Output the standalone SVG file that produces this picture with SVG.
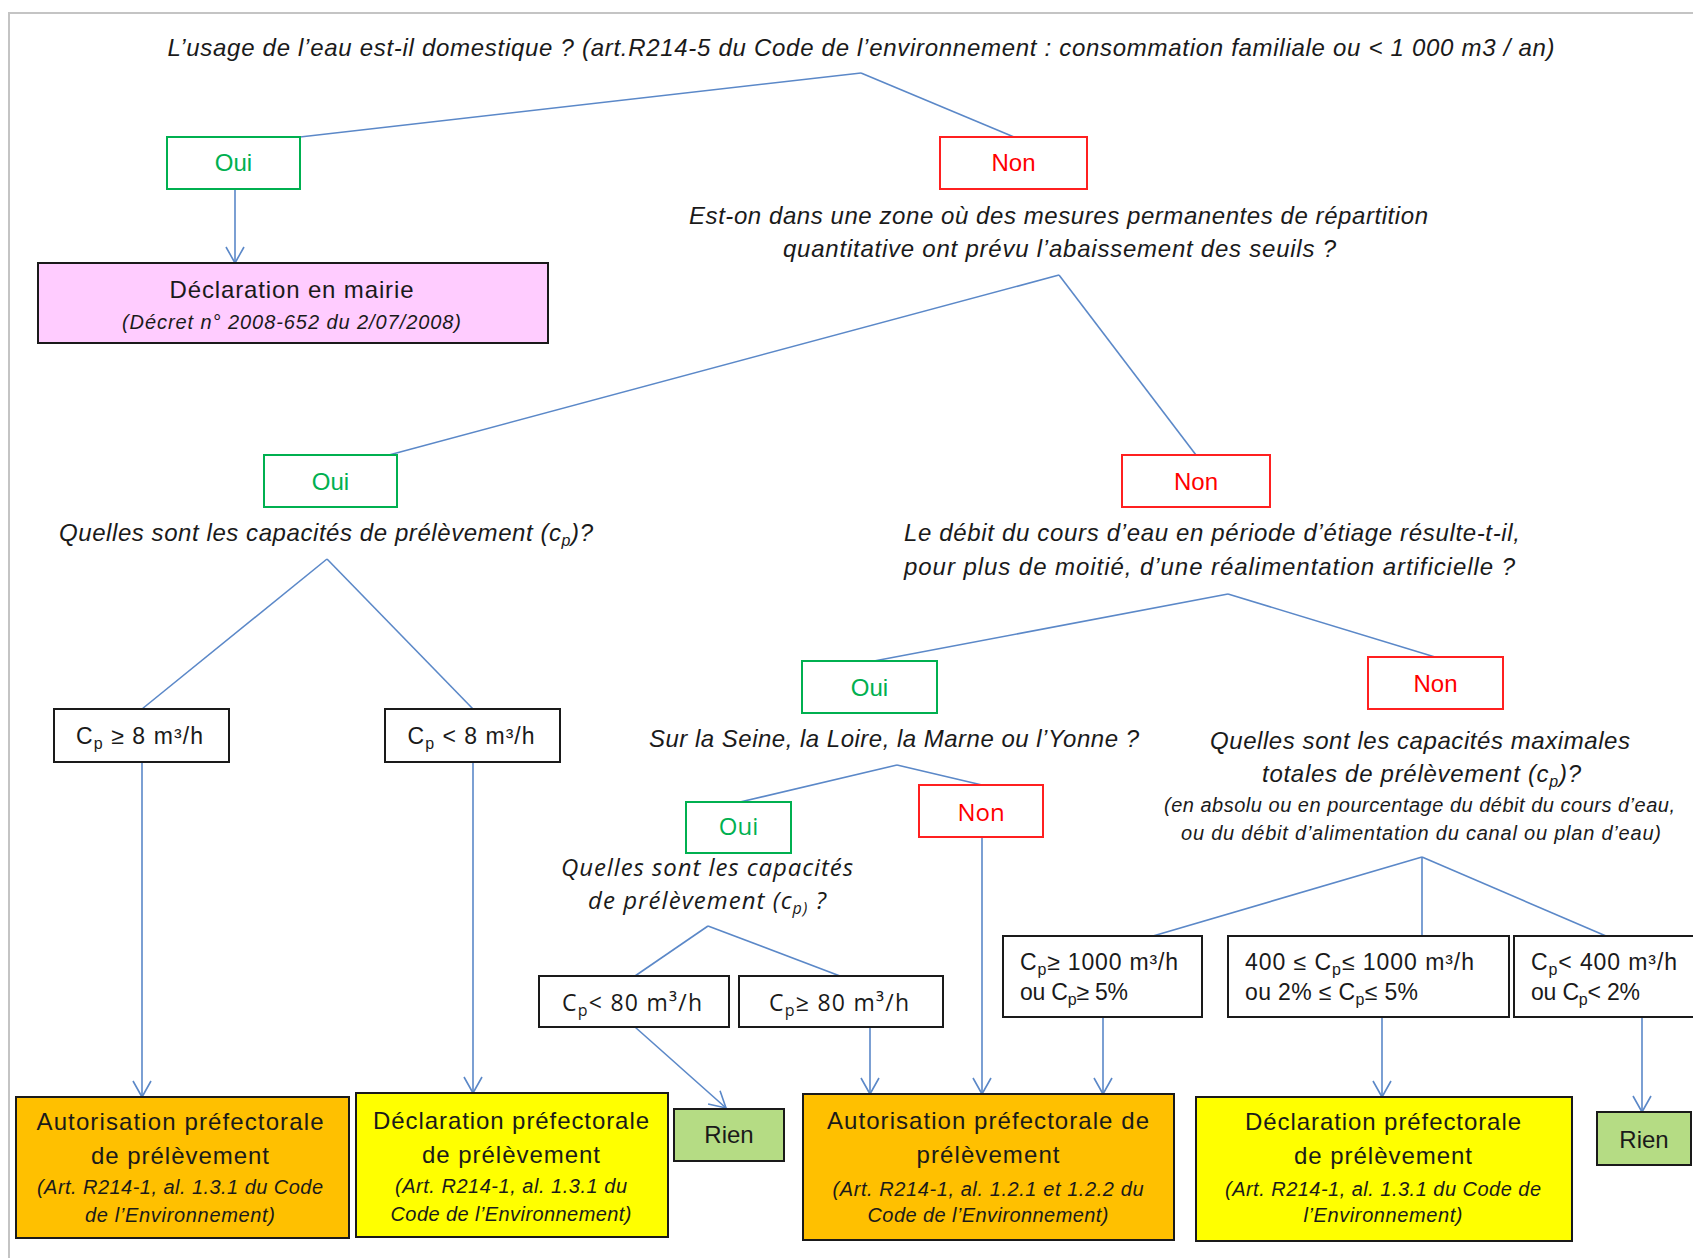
<svg xmlns="http://www.w3.org/2000/svg" width="1693" height="1258" viewBox="0 0 1693 1258">
<defs>
<marker id="arr" viewBox="-18 -10 20 20" refX="0" refY="0" markerWidth="20" markerHeight="20" markerUnits="userSpaceOnUse" orient="auto">
<path d="M-16,-9 L0,0 L-16,9" fill="none" stroke="#5B88C8" stroke-width="1.6"/>
</marker>
<style>
text{font-family:"Liberation Sans",Arial,sans-serif;fill:#1a1a1a}
.q{font-style:italic;font-size:24px}
.qs{font-style:italic;font-size:20px}
.o{font-family:"Open Sans","Liberation Sans",sans-serif}
.m{text-anchor:middle}
.lbl{font-size:24px;text-anchor:middle}
.oui{fill:#00B050}
.non{fill:#FF0000}
.cp{font-size:23px}
.bx{font-size:24px;text-anchor:middle}
.bs{font-size:20px;font-style:italic;text-anchor:middle}
.sub{font-size:16px}
.gbox{fill:#fff;stroke:#00B050;stroke-width:2}
.rbox{fill:#fff;stroke:#FF2020;stroke-width:2}
.kbox{fill:#fff;stroke:#1a1a1a;stroke-width:2}
.org{fill:#FFC000;stroke:#1a1a1a;stroke-width:2}
.yel{fill:#FFFF00;stroke:#1a1a1a;stroke-width:2}
.grn{fill:#B5DC84;stroke:#1a1a1a;stroke-width:2}
.pnk{fill:#FFCCFF;stroke:#1a1a1a;stroke-width:2}
.conn line{stroke:#5B88C8;stroke-width:1.6;fill:none}
.conn .a{marker-end:url(#arr)}
</style>
</defs>
<rect x="0" y="0" width="1693" height="1258" fill="#fff"/>
<path d="M9,1258 V13 H1693" stroke="#C4C4C4" stroke-width="2" fill="none"/>

<g class="conn" id="connectors">
<line x1="861" y1="73" x2="300" y2="137"/>
<line x1="861" y1="73" x2="1014" y2="137"/>
<line class="a" x1="235" y1="189" x2="235" y2="263"/>
<line x1="1059" y1="275" x2="389" y2="455"/>
<line x1="1059" y1="275" x2="1196" y2="455"/>
<line x1="327" y1="559" x2="142" y2="709"/>
<line x1="327" y1="559" x2="473" y2="709"/>
<line class="a" x1="142" y1="762" x2="142" y2="1097"/>
<line class="a" x1="473" y1="762" x2="473" y2="1093"/>
<line x1="1228" y1="594" x2="874" y2="661"/>
<line x1="1228" y1="594" x2="1435" y2="657"/>
<line x1="897" y1="765" x2="740" y2="802"/>
<line x1="897" y1="765" x2="982" y2="785"/>
<line class="a" x1="982" y1="837" x2="982" y2="1094"/>
<line x1="708" y1="926" x2="635" y2="976"/>
<line x1="708" y1="926" x2="840" y2="976"/>
<line class="a" x1="635" y1="1027" x2="726" y2="1108"/>
<line class="a" x1="870" y1="1027" x2="870" y2="1094"/>
<line x1="1422" y1="857" x2="1153" y2="936"/>
<line x1="1422" y1="857" x2="1422" y2="936"/>
<line x1="1422" y1="857" x2="1606" y2="936"/>
<line class="a" x1="1103" y1="1017" x2="1103" y2="1094"/>
<line class="a" x1="1382" y1="1017" x2="1382" y2="1097"/>
<line class="a" x1="1642" y1="1017" x2="1642" y2="1112"/>
</g>

<g id="q-domestique">
<text class="q m" x="861" y="56" textLength="1387">L’usage de l’eau est-il domestique ? (art.R214-5 du Code de l’environnement : consommation familiale ou &lt; 1 000 m3 / an)</text>
</g>

<g id="oui-1">
<rect class="gbox" x="167" y="137" width="133" height="52"/>
<text class="lbl oui" x="233.5" y="171">Oui</text>
</g>
<g id="non-1">
<rect class="rbox" x="940" y="137" width="147" height="52"/>
<text class="lbl non" x="1013.5" y="171">Non</text>
</g>

<g id="declaration-mairie">
<rect class="pnk" x="38" y="263" width="510" height="80"/>
<text class="bx" x="291.5" y="298" textLength="244">Déclaration en mairie</text>
<text class="bs" x="291.5" y="329" textLength="339">(Décret  n° 2008-652 du 2/07/2008)</text>
</g>

<g id="q-zone">
<text class="q m" x="1058.5" y="224" textLength="739">Est-on dans une zone où des mesures permanentes de répartition</text>
<text class="q m" x="1059.5" y="257" textLength="553">quantitative ont prévu l’abaissement des seuils ?</text>
</g>

<g id="oui-2">
<rect class="gbox" x="264" y="455" width="133" height="52"/>
<text class="lbl oui" x="330.5" y="490">Oui</text>
</g>
<g id="non-2">
<rect class="rbox" x="1122" y="455" width="148" height="52"/>
<text class="lbl non" x="1196" y="490">Non</text>
</g>

<g id="q-capacites-1">
<text class="q m" x="326" y="541" textLength="534">Quelles sont les capacités de prélèvement (c<tspan class="sub" dy="5">p</tspan><tspan dy="-5">)?</tspan></text>
</g>

<g id="cp-ge-8">
<rect class="kbox" x="54" y="709" width="175" height="53"/>
<text class="cp m" x="139.5" y="744" textLength="127">C<tspan class="sub" dy="5">p</tspan><tspan dy="-5"> ≥ 8 m³/h</tspan></text>
</g>
<g id="cp-lt-8">
<rect class="kbox" x="385" y="709" width="175" height="53"/>
<text class="cp m" x="471" y="744" textLength="127">C<tspan class="sub" dy="5">p</tspan><tspan dy="-5"> &lt; 8 m³/h</tspan></text>
</g>

<g id="q-debit">
<text class="q" x="904" y="541" textLength="616">Le débit du cours d’eau en période d’étiage résulte-t-il,</text>
<text class="q" x="904" y="575" textLength="611">pour plus de moitié, d’une réalimentation artificielle ?</text>
</g>

<g id="oui-3">
<rect class="gbox" x="802" y="661" width="135" height="52"/>
<text class="lbl oui" x="869.5" y="696">Oui</text>
</g>
<g id="non-3">
<rect class="rbox" x="1368" y="657" width="135" height="52"/>
<text class="lbl non" x="1435.5" y="692">Non</text>
</g>

<g id="q-seine">
<text class="q m" x="894" y="747" textLength="490">Sur la Seine, la Loire, la Marne ou l’Yonne ?</text>
</g>

<g id="q-capacites-max">
<text class="q m" x="1420" y="749" textLength="420">Quelles sont les capacités maximales</text>
<text class="q m" x="1421.5" y="782" textLength="319">totales de prélèvement (c<tspan class="sub" dy="5">p</tspan><tspan dy="-5">)?</tspan></text>
<text class="qs m" x="1419.5" y="812" textLength="511">(en absolu ou en pourcentage  du débit du cours d’eau,</text>
<text class="qs m" x="1421" y="840" textLength="480">ou du débit d’alimentation  du canal ou plan d’eau)</text>
</g>

<g id="oui-4">
<rect class="gbox" x="686" y="802" width="105" height="51"/>
<text class="lbl oui o" x="738.5" y="835">Oui</text>
</g>
<g id="non-4">
<rect class="rbox" x="919" y="785" width="124" height="52"/>
<text class="lbl non o" x="981" y="821">Non</text>
</g>

<g id="q-capacites-2">
<text class="q m o" x="707" y="876" textLength="292">Quelles sont les capacités</text>
<text class="q m o" x="707" y="909" textLength="238">de prélèvement (c<tspan class="sub" dy="5">p)</tspan><tspan dy="-5"> ?</tspan></text>
</g>

<g id="cp-lt-80">
<rect class="kbox" x="539" y="976" width="190" height="51"/>
<text class="cp m o" x="632" y="1011" textLength="140">C<tspan class="sub" dy="5">p</tspan><tspan dy="-5">&lt; 80 m³/h</tspan></text>
</g>
<g id="cp-ge-80">
<rect class="kbox" x="739" y="976" width="204" height="51"/>
<text class="cp m o" x="839" y="1011" textLength="140">C<tspan class="sub" dy="5">p</tspan><tspan dy="-5">≥ 80 m³/h</tspan></text>
</g>

<g id="cp-ge-1000">
<rect class="kbox" x="1003" y="936" width="199" height="81"/>
<text class="cp" x="1020" y="970" textLength="158">C<tspan class="sub" dy="5">p</tspan><tspan dy="-5">≥ 1000  m³/h</tspan></text>
<text class="cp" x="1020" y="1000" textLength="108">ou C<tspan class="sub" dy="5">p</tspan><tspan dy="-5">≥ 5%</tspan></text>
</g>
<g id="cp-400-1000">
<rect class="kbox" x="1228" y="936" width="281" height="81"/>
<text class="cp" x="1245" y="970" textLength="229">400 ≤ C<tspan class="sub" dy="5">p</tspan><tspan dy="-5">≤ 1000  m³/h</tspan></text>
<text class="cp" x="1245" y="1000" textLength="173">ou 2% ≤ C<tspan class="sub" dy="5">p</tspan><tspan dy="-5">≤  5%</tspan></text>
</g>
<g id="cp-lt-400">
<rect class="kbox" x="1514" y="936" width="190" height="81"/>
<text class="cp" x="1531" y="970" textLength="146">C<tspan class="sub" dy="5">p</tspan><tspan dy="-5">&lt; 400  m³/h</tspan></text>
<text class="cp" x="1531" y="1000" textLength="109">ou C<tspan class="sub" dy="5">p</tspan><tspan dy="-5">&lt; 2%</tspan></text>
</g>

<g id="autorisation-1">
<rect class="org" x="16" y="1097" width="333" height="141"/>
<text class="bx" x="180" y="1130" textLength="287">Autorisation préfectorale</text>
<text class="bx" x="180" y="1164" textLength="178">de prélèvement</text>
<text class="bs" x="180" y="1194" textLength="286">(Art. R214-1, al. 1.3.1 du Code</text>
<text class="bs" x="180" y="1222" textLength="190">de l’Environnement)</text>
</g>
<g id="declaration-1">
<rect class="yel" x="356" y="1093" width="312" height="144"/>
<text class="bx" x="511" y="1129" textLength="276">Déclaration préfectorale</text>
<text class="bx" x="511" y="1163" textLength="178">de prélèvement</text>
<text class="bs" x="511" y="1193" textLength="232">(Art. R214-1, al. 1.3.1 du</text>
<text class="bs" x="511" y="1221" textLength="241">Code de l’Environnement)</text>
</g>
<g id="rien-1">
<rect class="grn" x="674" y="1109" width="110" height="52"/>
<text class="lbl" x="729" y="1143">Rien</text>
</g>
<g id="autorisation-2">
<rect class="org" x="803" y="1094" width="371" height="146"/>
<text class="bx" x="988" y="1129" textLength="322">Autorisation  préfectorale de</text>
<text class="bx" x="988" y="1163" textLength="143">prélèvement</text>
<text class="bs" x="988" y="1196" textLength="311">(Art. R214-1, al. 1.2.1 et 1.2.2 du</text>
<text class="bs" x="988" y="1222" textLength="241">Code de l’Environnement)</text>
</g>
<g id="declaration-2">
<rect class="yel" x="1196" y="1097" width="376" height="144"/>
<text class="bx" x="1383" y="1130" textLength="276">Déclaration préfectorale</text>
<text class="bx" x="1383" y="1164" textLength="178">de prélèvement</text>
<text class="bs" x="1383" y="1196" textLength="316">(Art. R214-1, al. 1.3.1 du Code de</text>
<text class="bs" x="1383" y="1222" textLength="159">l’Environnement)</text>
</g>
<g id="rien-2">
<rect class="grn" x="1597" y="1112" width="94" height="53"/>
<text class="lbl" x="1644" y="1148">Rien</text>
</g>
</svg>
